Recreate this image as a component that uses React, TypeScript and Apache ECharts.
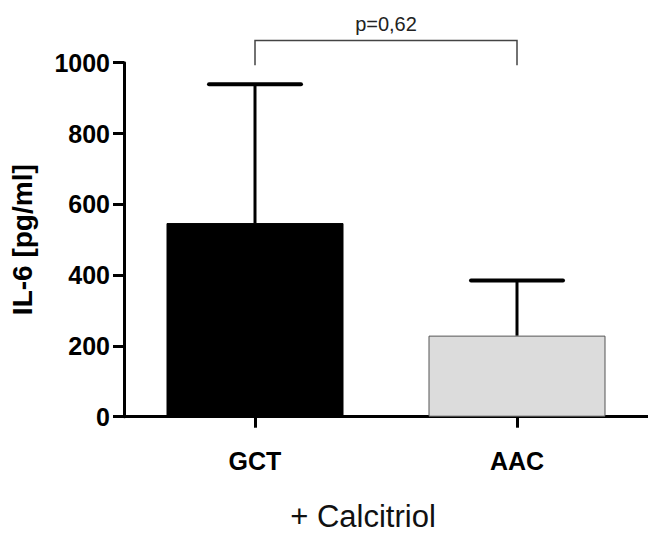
import React, { useEffect, useRef } from "react";
import * as echarts from "echarts";

const categories = ["GCT", "AAC"];
const means = [547, 229];
const upperErrors = [939, 385];
const barColors = ["#000000", "#dcdcdc"];
const barBorders = ["#000000", "#555555"];
const yMin = 0;
const yMax = 1000;
const yInterval = 200;
const pValueLabel = "p=0,62";
const bracketLevel = 1063;
const bracketDrop = 993;
const yAxisTitle = "IL-6 [pg/ml]";
const xAxisTitle = "+ Calcitriol";

const FONT = "'Liberation Sans', Arial, Helvetica, sans-serif";

export default function App() {
  const ref = useRef<HTMLDivElement>(null);

  useEffect(() => {
    document.body.style.margin = "0";
    if (!ref.current) return;
    const chart = echarts.init(ref.current, undefined, { renderer: "svg" });

    const option: any = {
      animation: false,
      backgroundColor: "#ffffff",
      grid: { left: 121, top: 62.7, bottom: 116.3, right: -5, containLabel: false },
      xAxis: {
        type: "category",
        data: categories,
        axisLine: { show: true, lineStyle: { color: "#000", width: 3 } },
        axisTick: { show: true, alignWithLabel: true, length: 11, lineStyle: { color: "#000", width: 3 } },
        axisLabel: { color: "#000", fontSize: 25, fontWeight: "bold", fontFamily: FONT, margin: 32 },
        splitLine: { show: false },
      },
      yAxis: {
        type: "value",
        min: yMin,
        max: yMax,
        interval: yInterval,
        name: yAxisTitle,
        nameLocation: "middle",
        nameRotate: 90,
        nameGap: 88,
        nameTextStyle: { color: "#000", fontSize: 28, fontWeight: "bold", fontFamily: FONT },
        axisLine: { show: true, lineStyle: { color: "#000", width: 3 } },
        axisTick: { show: true, length: 11, lineStyle: { color: "#000", width: 3 } },
        axisLabel: {
          color: "#000",
          fontSize: 25,
          fontWeight: "bold",
          fontFamily: FONT,
          margin: 14,
          formatter: (v: number) => String(v),
        },
        splitLine: { show: false },
      },
      graphic: [
        {
          type: "text",
          x: 363,
          y: 516,
          style: {
            text: xAxisTitle,
            fill: "#111",
            font: `31px ${FONT}`,
            textAlign: "center",
            textVerticalAlign: "middle",
          },
        },
      ],
      series: [
        {
          type: "bar",
          barWidth: 177,
          data: means.map((v, i) => ({
            value: v,
            itemStyle: { color: barColors[i], borderColor: barBorders[i], borderWidth: 1 },
          })),
          z: 2,
        },
        {
          type: "custom",
          clip: false,
          z: 3,
          data: means.map((m, i) => [i, m, upperErrors[i]]),
          renderItem: (params: any, api: any) => {
            const idx = api.value(0);
            const base = api.coord([idx, api.value(1)]);
            const top = api.coord([idx, api.value(2)]);
            const half = 46;
            return {
              type: "group",
              children: [
                {
                  type: "line",
                  shape: { x1: base[0], y1: base[1], x2: top[0], y2: top[1] },
                  style: { stroke: "#000", lineWidth: 3 },
                },
                {
                  type: "line",
                  shape: { x1: top[0] - half, y1: top[1], x2: top[0] + half, y2: top[1] },
                  style: { stroke: "#000", lineWidth: 4, lineCap: "round" },
                },
              ],
            };
          },
        },
        {
          type: "custom",
          clip: false,
          z: 3,
          data: [[0, 1, bracketLevel, bracketDrop]],
          renderItem: (params: any, api: any) => {
            const a = api.coord([api.value(0), api.value(3)]);
            const b = api.coord([api.value(1), api.value(2)]);
            const x0 = a[0];
            const x1 = b[0];
            const yl = b[1];
            const yd = a[1];
            return {
              type: "group",
              children: [
                {
                  type: "polyline",
                  shape: { points: [[x0, yd], [x0, yl], [x1, yl], [x1, yd]] },
                  style: { stroke: "#444", lineWidth: 1.5, fill: "none" },
                },
                {
                  type: "text",
                  x: (x0 + x1) / 2,
                  y: yl - 6,
                  style: {
                    text: pValueLabel,
                    fill: "#222",
                    font: `20px ${FONT}`,
                    textAlign: "center",
                    textVerticalAlign: "bottom",
                  },
                },
              ],
            };
          },
        },
      ],
    };

    chart.setOption(option);
    return () => chart.dispose();
  }, []);

  return (
    <div
      ref={ref}
      style={{ position: "absolute", left: 0, top: 0, width: 648, height: 533 }}
    />
  );
}
